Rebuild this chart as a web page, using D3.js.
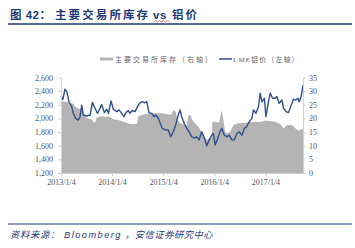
<!DOCTYPE html>
<html>
<head>
<meta charset="utf-8">
<script src="https://cdn.jsdelivr.net/npm/d3@7"></script>
<style>
  body { margin: 0; background: #fff; }
  svg { display: block; }
</style>
</head>
<body>
<svg id="chart"></svg>
<script>
// ---------------- data ----------------
// LME aluminium price (left axis)
let priceDates = ['2013-01-04','2013-01-18','2013-02-01','2013-02-15','2013-03-02','2013-03-22','2013-04-02','2013-04-19','2013-05-08','2013-05-20',
  '2013-06-01','2013-06-13','2013-07-07','2013-07-31','2013-08-16','2013-09-04','2013-09-21','2013-10-05','2013-10-22','2013-11-10',
  '2013-11-27','2013-12-09','2013-12-28','2014-01-13','2014-02-07','2014-02-23','2014-03-14','2014-03-30','2014-04-13','2014-04-30',
  '2014-05-12','2014-05-28','2014-06-17','2014-07-10','2014-07-23','2014-08-08','2014-08-27','2014-09-09','2014-09-25','2014-10-14',
  '2014-10-31','2014-11-12','2014-12-01','2014-12-29','2015-01-23','2015-02-10','2015-02-27','2015-03-18','2015-04-04','2015-04-23',
  '2015-05-05','2015-05-17','2015-06-03','2015-06-22','2015-07-08','2015-07-28','2015-08-15','2015-09-02','2015-09-18','2015-10-07',
  '2015-10-26','2015-11-12','2015-11-29','2015-12-18','2015-12-29','2016-01-11','2016-01-30','2016-02-15','2016-02-27','2016-03-17',
  '2016-04-03','2016-04-20','2016-05-09','2016-05-26','2016-06-14','2016-06-30','2016-07-20','2016-08-07','2016-08-24','2016-09-05',
  '2016-09-29','2016-10-11','2016-10-28','2016-11-16','2016-11-28','2016-12-10','2016-12-28','2017-01-08','2017-01-26','2017-02-08',
  '2017-02-24','2017-03-15','2017-03-27','2017-04-13','2017-05-02','2017-05-14','2017-05-31','2017-06-18','2017-07-08','2017-07-24',
  '2017-08-10','2017-08-25','2017-09-03','2017-09-17','2017-09-30']
let priceValues = [2330,2280,2430,2390,2245,2170,2075,2000,1975,2025,
  2195,2050,2035,2050,2235,2150,2075,2125,2205,2085,
  2135,2075,2255,2135,2100,2125,2075,2025,2085,2115,
  2075,2115,2100,2195,2230,2245,2230,2245,2085,2075,
  2025,2050,2000,1855,1830,1830,1730,1805,1905,2050,
  2125,2025,1930,1855,1805,1730,1710,1730,1685,1805,
  1710,1600,1685,1755,1780,1610,1710,1805,1855,1755,
  1730,1755,1685,1685,1780,1805,1755,1855,1880,1930,
  2000,2125,2075,2170,2370,2245,2295,2025,2245,2370,
  2295,2295,2320,2220,2270,2150,2100,2085,2195,2280,
  2270,2295,2245,2320,2490]

// exchange inventories (right axis)
let stockDates = ['2013-01-04','2013-01-20','2013-02-16','2013-03-09','2013-04-02','2013-04-14','2013-05-08','2013-06-01','2013-06-25','2013-07-18',
  '2013-08-12','2013-08-23','2013-09-05','2013-09-17','2013-10-22','2013-11-15','2013-12-21','2014-01-13','2014-02-18','2014-03-25',
  '2014-04-18','2014-05-12','2014-06-17','2014-07-01','2014-07-10','2014-08-27','2014-10-14','2014-11-07','2014-12-25','2015-01-30',
  '2015-03-02','2015-03-18','2015-04-04','2015-04-19','2015-05-05','2015-06-10','2015-06-24','2015-07-03','2015-07-16','2015-08-08',
  '2015-09-02','2015-09-25','2015-10-19','2015-11-12','2015-12-06','2015-12-17','2015-12-22','2016-01-11','2016-02-08','2016-02-27',
  '2016-03-10','2016-03-22','2016-04-03','2016-04-27','2016-05-21','2016-06-25','2016-08-12','2016-10-23','2016-12-10','2017-01-03',
  '2017-03-15','2017-04-20','2017-05-14','2017-06-07','2017-07-13','2017-08-06','2017-08-30','2017-09-17','2017-09-30']
let stockValues = [27.4,26.1,26.1,25.5,25.5,24.3,23.7,23.1,20.6,20.0,
  19.7,18.8,18.5,20.3,20.9,20.6,20.6,19.7,19.4,18.8,
  18.4,18.0,18.0,18.0,20.8,21.5,22.1,21.9,21.9,21.6,
  21.3,23.1,22.5,19.4,18.2,17.6,17.6,21.3,21.3,18.8,
  17.6,16.0,13.9,12.1,12.7,12.7,18.8,18.8,18.4,23.1,
  19.4,15.1,14.5,15.1,17.6,18.2,18.4,18.8,18.8,19.2,
  18.8,18.0,16.4,17.6,17.6,16.4,15.5,16.0,16.0]

let leftTicks = [1200,1400,1600,1800,2000,2200,2400,2600]
let rightTicks = [0,5,10,15,20,25,30,35]
let xTickDates = ['2013-01-04','2014-01-04','2015-01-04','2016-01-04','2017-01-04']

let titleParts = ['图 42：', '主要交易所库存', 'vs', '铝价']
let legendStock = '主要交易所库存（右轴）'
let legendPrice = 'LME铝价（左轴）'
let sourceParts = ['资料来源：', 'Bloomberg', '，安信证券研究中心']

// ---------------- drawing ----------------
let width = 355
let height = 248
let plotLeft = 61, plotRight = 303, plotTop = 77.5, plotBottom = 173
let navy = '#1f3a78'
let axisFont = '"Liberation Serif", "DejaVu Serif", serif'
let cjkFont = '"Noto Sans CJK SC", sans-serif'

let parse = d3.timeParse('%Y-%m-%d')
let price = priceDates.map((d, i) => ({date: parse(d), v: priceValues[i]}))
let stock = stockDates.map((d, i) => ({date: parse(d), v: stockValues[i]}))

let svg = d3.select('#chart').attr('width', width).attr('height', height)

let xScale = d3.scaleTime()
  .domain([parse('2013-01-04'), parse('2017-09-30')])
  .range([plotLeft, plotRight])
let yLeft = d3.scaleLinear().domain([1200, 2600]).range([plotBottom, plotTop])
let yRight = d3.scaleLinear().domain([0, 35]).range([plotBottom, plotTop])

// title (pieces placed like the original, which is spaced out)
let title = svg.append('text')
  .attr('y', 19)
  .attr('fill', navy)
  .style('font-family', '"Liberation Sans", ' + cjkFont)
  .style('font-size', '11.5px')
  .style('font-weight', 'bold')
let titleX = [10, 55, 153, 172]
let titleSpacing = [0.5, 2.1, 0.5, 2]
titleParts.forEach((t, i) => {
  title.append('tspan').attr('x', titleX[i]).style('letter-spacing', titleSpacing[i] + 'px').text(t)
})
// the red squiggle under "vs"
let squiggle = d3.range(0, 9).map(i => [153.5 + i * 2, i % 2 ? 20.6 : 22])
svg.append('path').attr('d', d3.line()(squiggle))
  .attr('fill', 'none').attr('stroke', '#d33').attr('stroke-width', 0.6)

svg.append('line').attr('x1', 8).attr('x2', 352).attr('y1', 24).attr('y2', 24)
  .attr('stroke', navy).attr('stroke-width', 1.5)
svg.append('line').attr('x1', 8).attr('x2', 352).attr('y1', 224).attr('y2', 224)
  .attr('stroke', navy).attr('stroke-width', 1)

// source line
let source = svg.append('text')
  .attr('y', 237.5)
  .attr('fill', navy)
  .style('font-family', '"Liberation Sans", ' + cjkFont)
  .style('font-size', '9.2px')
  .style('font-style', 'italic')
let sourceX = [10, 64, 125]
let sourceSpacing = [0.8, 1.5, 0.6]
sourceParts.forEach((t, i) => {
  source.append('tspan').attr('x', sourceX[i]).style('letter-spacing', sourceSpacing[i] + 'px').text(t)
})

// legend
svg.append('rect').attr('x', 100).attr('y', 57.5).attr('width', 13).attr('height', 3).attr('fill', '#b4b4b4')
svg.append('text').attr('x', 115).attr('y', 61.5)
  .attr('fill', '#666').style('font-family', cjkFont).style('font-size', '7px')
  .style('letter-spacing', '2px')
  .text(legendStock)
svg.append('line').attr('x1', 219).attr('x2', 232).attr('y1', 59).attr('y2', 59)
  .attr('stroke', '#2f4f8f').attr('stroke-width', 1.5)
svg.append('text').attr('x', 233).attr('y', 61.5)
  .attr('fill', '#666').style('font-family', axisFont + ', ' + cjkFont).style('font-size', '7px')
  .style('letter-spacing', '1.1px')
  .text(legendPrice)

// inventory area
let area = d3.area()
  .x(d => xScale(d.date))
  .y0(plotBottom)
  .y1(d => yRight(d.v))
svg.append('path').datum(stock).attr('d', area).attr('fill', '#b4b4b4')

// price line
let line = d3.line()
  .x(d => xScale(d.date))
  .y(d => yLeft(d.v))
svg.append('path').datum(price).attr('d', line)
  .attr('fill', 'none').attr('stroke', '#2f4f8f').attr('stroke-width', 1.4)
  .attr('stroke-linejoin', 'round')

// axes
let styleAxis = g => {
  g.select('.domain').attr('stroke', '#d0d0d0')
  g.selectAll('.tick line').attr('stroke', '#d0d0d0')
  g.selectAll('.tick text').attr('fill', '#555')
    .style('font-family', axisFont).style('font-size', '8px')
}

let xAxis = d3.axisBottom(xScale)
  .tickValues(xTickDates.map(parse))
  .tickFormat(d3.timeFormat('%Y/%-m/%-d'))
  .tickSize(3).tickSizeOuter(0)
svg.append('g').attr('transform', 'translate(0,' + plotBottom + ')').call(xAxis).call(styleAxis)
  .selectAll('.tick text').attr('y', 6).attr('dy', '0.71em')

let yAxisL = d3.axisLeft(yLeft).tickValues(leftTicks).tickFormat(d3.format(',')).tickSize(3).tickSizeOuter(0)
svg.append('g').attr('transform', 'translate(' + plotLeft + ',0)').call(yAxisL).call(styleAxis)
  .selectAll('.tick text').attr('x', -8)

let yAxisR = d3.axisRight(yRight).tickValues(rightTicks).tickSize(3).tickSizeOuter(0)
svg.append('g').attr('transform', 'translate(' + plotRight + ',0)').call(yAxisR).call(styleAxis)
  .selectAll('.tick text').attr('x', 6)
</script>
</body>
</html>
